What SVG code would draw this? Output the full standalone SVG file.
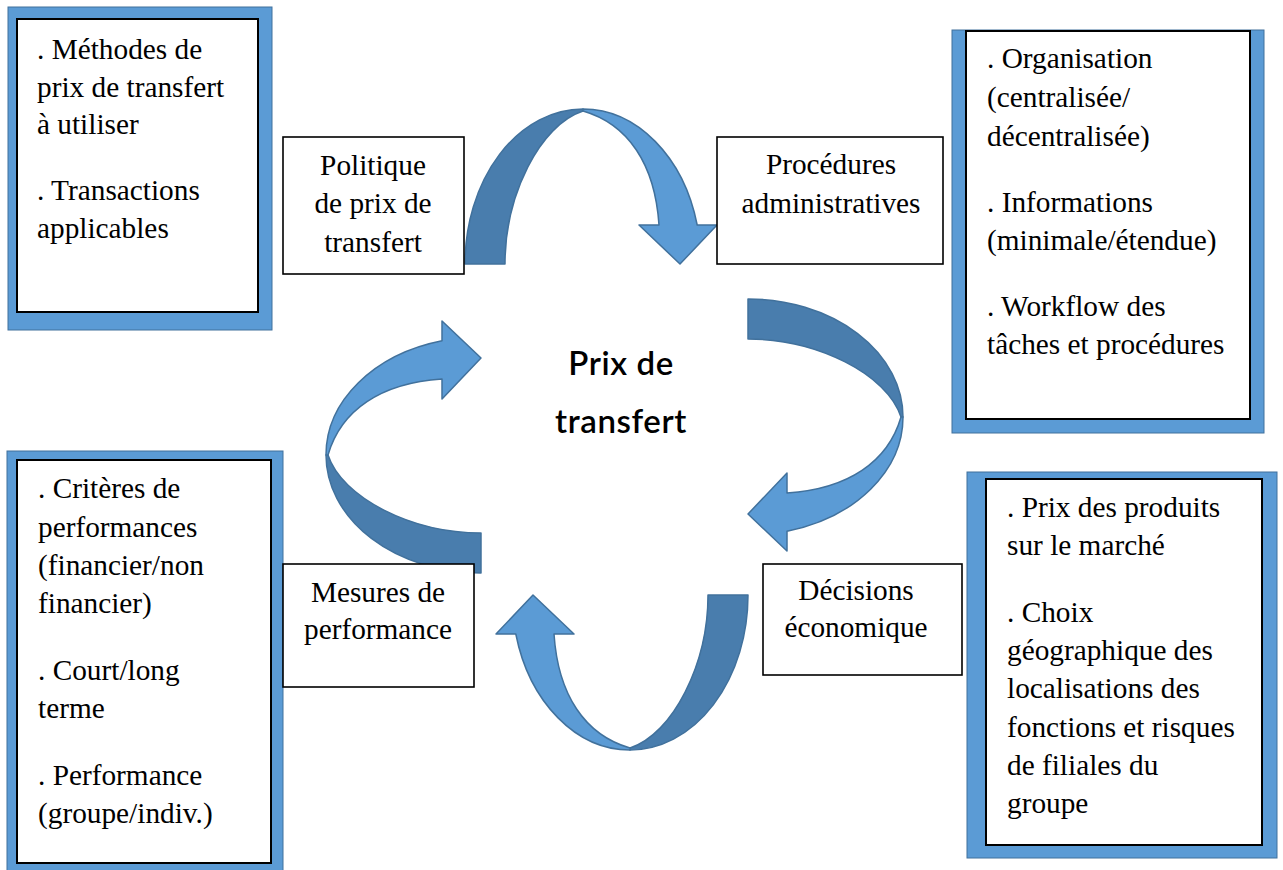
<svg xmlns="http://www.w3.org/2000/svg" width="1283" height="870" viewBox="0 0 1283 870">
<style>
.frame{fill:#5b9bd5;stroke:#41719c;stroke-width:1}
.inner{fill:#fff;stroke:#000;stroke-width:2}
.box{fill:#fff;stroke:#000;stroke-width:1.6}
text.t{font-size:29.3px;fill:#000}
text.c{text-anchor:middle}
text.center{font-size:33px;font-weight:600;letter-spacing:0.6px;fill:#000;text-anchor:middle}
.back{fill:#497dad;stroke:#41719c;stroke-width:1.5;stroke-linejoin:round}
.front{fill:#5b9bd5;stroke:#41719c;stroke-width:1.5;stroke-linejoin:round}
</style>
<defs>
<g id="curvedArrow">
<path class="back" d="M -118 0 A 118 155 0 0 1 0 -155 L 0 -153 C -43 -139 -78 -69 -78 0 Z"/>
<path class="front" d="M 0 -155 A 118 155 0 0 1 114.2 -39 L 134 -39 L 97 0 L 56 -39 L 76 -39 C 72 -100 45 -140 0 -153 Z"/>
</g>
</defs>
<rect width="1283" height="870" fill="#fff"/>

<g id="connectors">
<use href="#curvedArrow" transform="translate(583,264)"/>
<use href="#curvedArrow" transform="translate(748,417) rotate(90)"/>
<use href="#curvedArrow" transform="translate(630,595) rotate(180)"/>
<use href="#curvedArrow" transform="translate(481,455) rotate(270)"/>
</g>

<g id="box-methodes">
<rect class="frame" x="8" y="7" width="264" height="323"/>
<rect class="inner" x="17" y="19" width="241" height="293"/>
<text class="t" font-family="'Liberation Serif', 'Times New Roman', serif"><tspan x="37" y="59">. Méthodes de</tspan><tspan x="37" y="97">prix de transfert</tspan><tspan x="37" y="134">à utiliser</tspan><tspan x="37" y="200">. Transactions</tspan><tspan x="37" y="238">applicables</tspan></text>
</g>

<g id="box-organisation">
<rect class="frame" x="952" y="30" width="312" height="403"/>
<rect class="inner" x="966" y="31" width="284" height="388"/>
<text class="t" font-family="'Liberation Serif', 'Times New Roman', serif"><tspan x="987" y="68">. Organisation</tspan><tspan x="987" y="107">(centralisée/</tspan><tspan x="987" y="146">décentralisée)</tspan><tspan x="987" y="212">. Informations</tspan><tspan x="987" y="250">(minimale/étendue)</tspan><tspan x="987" y="316">. Workflow des</tspan><tspan x="987" y="354">tâches et procédures</tspan></text>
</g>

<g id="box-criteres">
<rect class="frame" x="7" y="451" width="276" height="430"/>
<rect class="inner" x="17" y="460" width="254" height="403"/>
<text class="t" font-family="'Liberation Serif', 'Times New Roman', serif"><tspan x="38" y="498">. Critères de</tspan><tspan x="38" y="537">performances</tspan><tspan x="38" y="575">(financier/non</tspan><tspan x="38" y="613">financier)</tspan><tspan x="38" y="680">. Court/long</tspan><tspan x="38" y="718">terme</tspan><tspan x="38" y="785">. Performance</tspan><tspan x="38" y="823">(groupe/indiv.)</tspan></text>
</g>

<g id="box-prix-produits">
<rect class="frame" x="967" y="472" width="310" height="386"/>
<rect class="inner" x="986" y="479" width="276" height="366"/>
<text class="t" font-family="'Liberation Serif', 'Times New Roman', serif"><tspan x="1007" y="517">. Prix des produits</tspan><tspan x="1007" y="555">sur le marché</tspan><tspan x="1007" y="622">. Choix</tspan><tspan x="1007" y="660">géographique des</tspan><tspan x="1007" y="698">localisations des</tspan><tspan x="1007" y="737">fonctions et risques</tspan><tspan x="1007" y="775">de filiales du</tspan><tspan x="1007" y="813">groupe</tspan></text>
</g>

<g id="node-politique">
<rect class="box" x="283" y="137" width="181" height="137"/>
<text class="t c" font-family="'Liberation Serif', 'Times New Roman', serif"><tspan x="373" y="175">Politique</tspan><tspan x="373" y="213">de prix de</tspan><tspan x="373" y="252">transfert</tspan></text>
</g>

<g id="node-procedures">
<rect class="box" x="717" y="137" width="226" height="127"/>
<text class="t c" font-family="'Liberation Serif', 'Times New Roman', serif"><tspan x="831" y="174">Procédures</tspan><tspan x="831" y="213">administratives</tspan></text>
</g>

<g id="node-mesures">
<rect class="box" x="283" y="564" width="191" height="123"/>
<text class="t c" font-family="'Liberation Serif', 'Times New Roman', serif"><tspan x="378" y="602">Mesures de</tspan><tspan x="378" y="639">performance</tspan></text>
</g>

<g id="node-decisions">
<rect class="box" x="763" y="564" width="199" height="111"/>
<text class="t c" font-family="'Liberation Serif', 'Times New Roman', serif"><tspan x="856" y="600">Décisions</tspan><tspan x="856" y="637">économique</tspan></text>
</g>

<g id="node-center">
<text class="center" font-family="Lato, 'Open Sans', sans-serif"><tspan x="621" y="375">Prix de</tspan><tspan x="621" y="433">transfert</tspan></text>
</g>
</svg>
